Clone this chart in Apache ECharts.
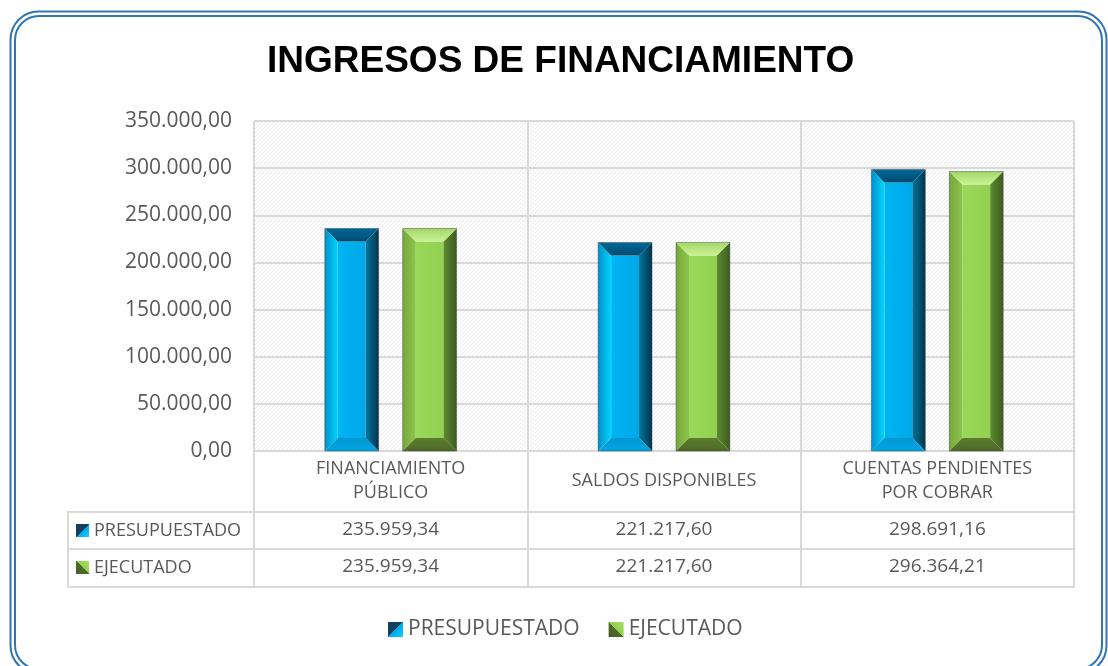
<!DOCTYPE html>
<html>
<head>
<meta charset="utf-8">
<script src="https://cdn.jsdelivr.net/npm/echarts@6/dist/echarts.min.js"></script>
<style>
  html, body { margin: 0; padding: 0; background: #fff; }
  #chart { width: 1108px; height: 666px; }
</style>
</head>
<body>
<div id="chart"></div>
<script>
// data
let categories = ['FINANCIAMIENTO\nPÚBLICO', 'SALDOS DISPONIBLES', 'CUENTAS PENDIENTES\nPOR COBRAR'];
let seriesNames = ['PRESUPUESTADO', 'EJECUTADO'];
let presupuestado = [235959.34, 221217.60, 298691.16];
let ejecutado = [235959.34, 221217.60, 296364.21];
let yTicks = [0, 50000, 100000, 150000, 200000, 250000, 300000, 350000];

let chartDom = document.getElementById('chart');
let chart = echarts.init(chartDom);
let option;

const gray = '#595959';
const lineCol = '#d9d9d9';

// number format 1.234,56
function fmt(v) {
  let parts = v.toFixed(2).split('.');
  parts[0] = parts[0].replace(/\B(?=(\d{3})+(?!\d))/g, '.');
  return parts[0] + ',' + parts[1];
}

// hatched background for the plot
let pat = document.createElement('canvas');
pat.width = 4;
pat.height = 4;
let pctx = pat.getContext('2d');
pctx.fillStyle = '#ffffff';
pctx.fillRect(0, 0, 4, 4);
pctx.fillStyle = '#ebebeb';
for (let i = 0; i < 4; i++) pctx.fillRect(i, 3 - i, 1, 1);

const blueIcon = new echarts.graphic.LinearGradient(0, 0, 1, 1, [
  { offset: 0, color: '#123f5e' }, { offset: 0.5, color: '#123f5e' },
  { offset: 0.5, color: '#00a8e8' }, { offset: 1, color: '#10d0ff' }
]);
const greenIcon = new echarts.graphic.LinearGradient(1, 0, 0, 1, [
  { offset: 0, color: '#a6e060' }, { offset: 0.5, color: '#92d050' },
  { offset: 0.5, color: '#4f6a28' }, { offset: 1, color: '#45602a' }
]);

const palettes = [
  {
    top: ['#00699a', '#004a6e'],
    bottom: ['#0096d2', '#00a6e4'],
    left: ['#0090c8', '#00d6ff'],
    right: ['#00769f', '#00344c'],
    face: ['#00b4f2', '#00a8e8']
  },
  {
    top: ['#a4d868', '#c8f294'],
    bottom: ['#5c7c30', '#4d6a26'],
    left: ['#76a83c', '#8cc44c'],
    right: ['#5c8a30', '#3e5c1e'],
    face: ['#9ad85a', '#92d050']
  }
];

function bevelBar(seriesIdx) {
  return function (params, api) {
    let idx = api.value(0);
    let top = api.coord([idx, api.value(1)]);
    let base = api.coord([idx, 0]);
    let band = api.size([1, 0])[0];
    let bw = band * 0.197;
    let gap = band * 0.088;
    let cx = top[0] + (seriesIdx === 0 ? -1 : 1) * (bw + gap) / 2;
    let x0 = cx - bw / 2, x1 = cx + bw / 2;
    let y0 = top[1], y1 = base[1];
    let b = Math.min(13, (y1 - y0) / 2, bw / 4);
    let p = palettes[seriesIdx];
    let vg = (c) => new echarts.graphic.LinearGradient(0, 0, 0, 1, [{ offset: 0, color: c[0] }, { offset: 1, color: c[1] }]);
    let hg = (c) => new echarts.graphic.LinearGradient(0, 0, 1, 0, [{ offset: 0, color: c[0] }, { offset: 1, color: c[1] }]);
    return {
      type: 'group',
      children: [
        { type: 'rect', shape: { x: x0 + b, y: y0 + b, width: bw - 2 * b, height: y1 - y0 - 2 * b }, style: { fill: hg(p.face) } },
        { type: 'polygon', shape: { points: [[x0, y0], [x0 + b, y0 + b], [x0 + b, y1 - b], [x0, y1]] }, style: { fill: hg(p.left) } },
        { type: 'polygon', shape: { points: [[x1, y0], [x1 - b, y0 + b], [x1 - b, y1 - b], [x1, y1]] }, style: { fill: hg(p.right) } },
        { type: 'polygon', shape: { points: [[x0, y0], [x1, y0], [x1 - b, y0 + b], [x0 + b, y0 + b]] }, style: { fill: vg(p.top) } },
        { type: 'polygon', shape: { points: [[x0, y1], [x1, y1], [x1 - b, y1 - b], [x0 + b, y1 - b]] }, style: { fill: vg(p.bottom) } },
        { type: 'rect', shape: { x: x0, y: y0, width: bw, height: y1 - y0 }, style: { fill: 'none', stroke: 'rgba(60,60,60,0.45)', lineWidth: 1 } }
      ]
    };
  };
}

const valueAxis = (offset, values) => ({
  type: 'category',
  data: categories,
  position: 'bottom',
  offset: offset,
  axisLine: { show: true, lineStyle: { color: lineCol, width: 2 } },
  axisTick: { show: false },
  axisLabel: {
    interval: 0,
    margin: 18,
    verticalAlign: 'middle',
    color: gray,
    fontFamily: 'Open Sans',
    fontSize: 19,
    formatter: (v, i) => fmt(values[i])
  }
});

const textStyle = { fontFamily: 'Open Sans', fontSize: 18, fill: gray };

option = {
  backgroundColor: '#ffffff',
  animation: false,
  title: {
    text: 'INGRESOS DE FINANCIAMIENTO',
    left: 262,
    top: 38,
    textStyle: { fontFamily: 'Liberation Sans', fontWeight: 'bold', fontSize: 37, color: '#000' }
  },
  legend: {
    data: [
      { name: seriesNames[0], itemStyle: { color: blueIcon } },
      { name: seriesNames[1], itemStyle: { color: greenIcon } }
    ],
    icon: 'rect',
    left: 388,
    top: 619,
    padding: 0,
    itemWidth: 15,
    itemHeight: 15,
    itemGap: 29,
    textStyle: { fontFamily: 'Open Sans', fontSize: 21, color: gray }
  },
  grid: {
    left: 254,
    right: 34,
    top: 121,
    bottom: 215,
    show: true,
    borderWidth: 0,
    backgroundColor: { image: pat, repeat: 'repeat' }
  },
  xAxis: [
    {
      type: 'category',
      data: categories,
      axisLine: { show: true, lineStyle: { color: lineCol, width: 2 } },
      axisTick: { show: true, interval: 0, length: 136, lineStyle: { color: lineCol, width: 2 } },
      splitLine: { show: true, interval: 0, lineStyle: { color: lineCol, width: 2 } },
      axisLabel: {
        interval: 0,
        margin: 30,
        verticalAlign: 'middle',
        lineHeight: 24,
        color: gray,
        fontFamily: 'Open Sans',
        fontSize: 18
      }
    },
    valueAxis(61, presupuestado),
    valueAxis(98, ejecutado),
    Object.assign(valueAxis(136, ejecutado), { axisLabel: { show: false } })
  ],
  yAxis: {
    type: 'value',
    min: yTicks[0],
    max: yTicks[yTicks.length - 1],
    interval: yTicks[1] - yTicks[0],
    axisLine: { show: false },
    axisTick: { show: false },
    splitLine: { show: true, lineStyle: { color: lineCol, width: 2 } },
    axisLabel: {
      margin: 22,
      color: gray,
      fontFamily: 'Open Sans',
      fontSize: 21,
      formatter: (v) => fmt(v)
    }
  },
  series: [
    {
      name: seriesNames[0],
      type: 'custom',
      renderItem: bevelBar(0),
      itemStyle: { color: blueIcon },
      encode: { x: 0, y: 1 },
      data: presupuestado.map((v, i) => [i, v]),
      z: 5
    },
    {
      name: seriesNames[1],
      type: 'custom',
      renderItem: bevelBar(1),
      itemStyle: { color: greenIcon },
      encode: { x: 0, y: 1 },
      data: ejecutado.map((v, i) => [i, v]),
      z: 5
    }
  ],
  graphic: [
    // outer double border
    { type: 'rect', shape: { x: 10.5, y: 11.5, width: 1096, height: 662, r: 28 }, style: { fill: 'none', stroke: '#2e75b6', lineWidth: 2 }, silent: true },
    { type: 'rect', shape: { x: 15, y: 16, width: 1087, height: 653, r: 24 }, style: { fill: 'none', stroke: '#2e75b6', lineWidth: 2 }, silent: true },
    // left column of the data table
    { type: 'line', shape: { x1: 68, y1: 512, x2: 254, y2: 512 }, style: { stroke: lineCol, lineWidth: 2 }, silent: true },
    { type: 'line', shape: { x1: 68, y1: 549, x2: 254, y2: 549 }, style: { stroke: lineCol, lineWidth: 2 }, silent: true },
    { type: 'line', shape: { x1: 68, y1: 587, x2: 254, y2: 587 }, style: { stroke: lineCol, lineWidth: 2 }, silent: true },
    { type: 'line', shape: { x1: 68, y1: 511, x2: 68, y2: 588 }, style: { stroke: lineCol, lineWidth: 2 }, silent: true },
    { type: 'rect', shape: { x: 76, y: 524, width: 13, height: 13 }, style: { fill: blueIcon }, silent: true },
    { type: 'text', x: 94, y: 531, style: Object.assign({ text: seriesNames[0], verticalAlign: 'middle' }, textStyle), silent: true },
    { type: 'rect', shape: { x: 76, y: 561, width: 13, height: 13 }, style: { fill: greenIcon }, silent: true },
    { type: 'text', x: 94, y: 568, style: Object.assign({ text: seriesNames[1], verticalAlign: 'middle' }, textStyle), silent: true }
  ]
};

option && chart.setOption(option);
</script>
</body>
</html>
